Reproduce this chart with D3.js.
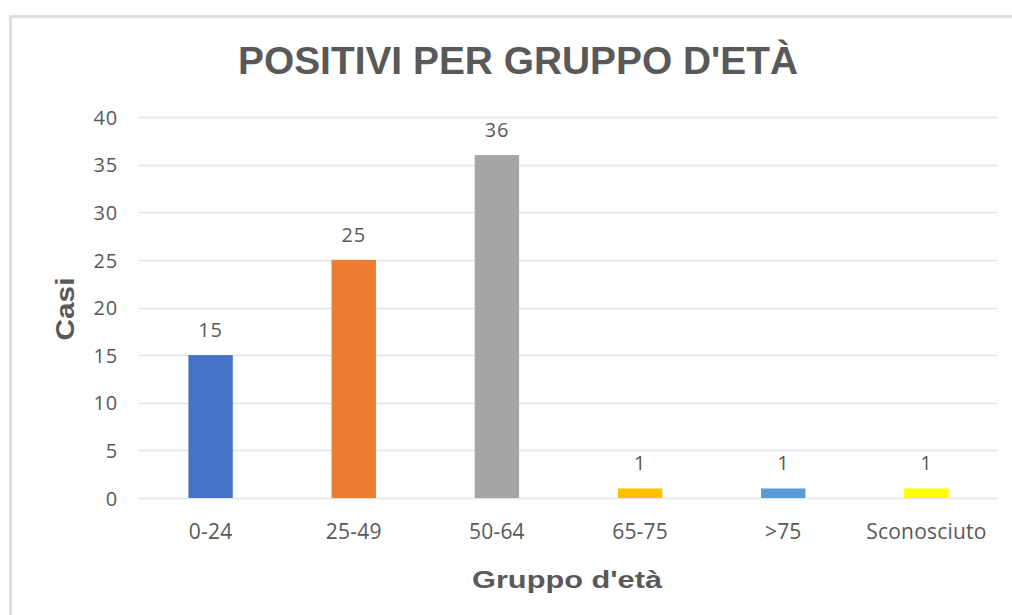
<!DOCTYPE html>
<html>
<head>
<meta charset="utf-8">
<script src="https://cdn.jsdelivr.net/npm/d3@7"></script>
<style>
  body { margin: 0; background: #fff; }
  svg { display: block; }
</style>
</head>
<body>
<div id="chart"></div>
<script>
// Dati del grafico
const categories = ["0-24", "25-49", "50-64", "65-75", ">75", "Sconosciuto"];
const values = [15, 25, 36, 1, 1, 1];
const barColors = ["#4472C4", "#ED7D31", "#A5A5A5", "#FFC000", "#5B9BD5", "#FFFF00"];
const yTicks = [0, 5, 10, 15, 20, 25, 30, 35, 40];

const width = 1012, height = 615;
const margin = { top: 117, right: 14, bottom: 117, left: 139 };

const svg = d3.select("#chart").append("svg")
    .attr("width", width)
    .attr("height", height);

// Bordo dell'area del grafico
svg.append("rect")
    .attr("x", 10.5)
    .attr("y", 16.5)
    .attr("width", width + 20)
    .attr("height", height + 20)
    .attr("fill", "none")
    .attr("stroke", "#d9d9d9")
    .attr("stroke-width", 2.5);

const x = d3.scaleBand()
    .domain(categories)
    .range([margin.left, width - margin.right])
    .paddingInner(0.69)
    .paddingOuter(0.345);

const y = d3.scaleLinear()
    .domain([0, 40])
    .range([height - margin.bottom, margin.top]);

// Griglia
svg.append("g")
    .selectAll("line")
    .data(yTicks)
    .enter().append("line")
    .attr("x1", margin.left)
    .attr("x2", width - margin.right - 1)
    .attr("y1", d => Math.round(y(d)) + 0.5)
    .attr("y2", d => Math.round(y(d)) + 0.5)
    .attr("stroke", "#e3e3e3")
    .attr("stroke-width", 1.5);

// Etichette asse Y
const yAxis = svg.append("g")
    .attr("transform", "translate(" + (margin.left - 21) + ",0)")
    .call(d3.axisLeft(y).tickValues(yTicks).tickSize(0).tickPadding(0));
yAxis.select(".domain").remove();
yAxis.selectAll("text")
    .attr("fill", "#595959")
    .attr("font-family", "'Open Sans', sans-serif")
    .attr("font-size", 20)
    .attr("letter-spacing", 0.8)
    .attr("dy", "0.36em");

// Etichette asse X
const xAxis = svg.append("g")
    .attr("transform", "translate(0," + (height - margin.bottom) + ")")
    .call(d3.axisBottom(x).tickSize(0).tickPadding(0));
xAxis.select(".domain").remove();
xAxis.selectAll("text")
    .attr("fill", "#595959")
    .attr("font-family", "'Open Sans', sans-serif")
    .attr("font-size", 21)
    .attr("letter-spacing", 0.2)
    .attr("dy", 0)
    .attr("y", 41);

// Barre
svg.append("g")
    .selectAll("rect")
    .data(values)
    .enter().append("rect")
    .attr("x", (d, i) => x(categories[i]))
    .attr("y", d => y(d))
    .attr("width", x.bandwidth())
    .attr("height", d => y(0) - y(d))
    .attr("fill", (d, i) => barColors[i]);

// Etichette dei valori
svg.append("g")
    .selectAll("text")
    .data(values)
    .enter().append("text")
    .attr("x", (d, i) => x(categories[i]) + x.bandwidth() / 2)
    .attr("y", d => y(d) - 18)
    .attr("text-anchor", "middle")
    .attr("fill", "#595959")
    .attr("font-family", "'Open Sans', sans-serif")
    .attr("font-size", 20)
    .attr("letter-spacing", 0.8)
    .text(d => d);

// Titolo
svg.append("text")
    .attr("x", 518)
    .attr("y", 74)
    .attr("text-anchor", "middle")
    .attr("fill", "#595959")
    .attr("font-family", "'Liberation Sans', Arial, sans-serif")
    .attr("font-weight", "bold")
    .attr("font-size", 38)
    .attr("textLength", 560)
    .attr("lengthAdjust", "spacingAndGlyphs")
    .text("POSITIVI PER GRUPPO D'ETÀ");

// Titolo asse X
svg.append("text")
    .attr("x", 567)
    .attr("y", 588)
    .attr("text-anchor", "middle")
    .attr("fill", "#595959")
    .attr("font-family", "'Liberation Sans', Arial, sans-serif")
    .attr("font-weight", "bold")
    .attr("font-size", 23)
    .attr("textLength", 190)
    .attr("lengthAdjust", "spacingAndGlyphs")
    .text("Gruppo d'età");

// Titolo asse Y
svg.append("text")
    .attr("transform", "translate(74,309) rotate(-90)")
    .attr("text-anchor", "middle")
    .attr("fill", "#595959")
    .attr("font-family", "'Liberation Sans', Arial, sans-serif")
    .attr("font-weight", "bold")
    .attr("font-size", 25)
    .attr("textLength", 63)
    .attr("lengthAdjust", "spacingAndGlyphs")
    .text("Casi");
</script>
</body>
</html>
